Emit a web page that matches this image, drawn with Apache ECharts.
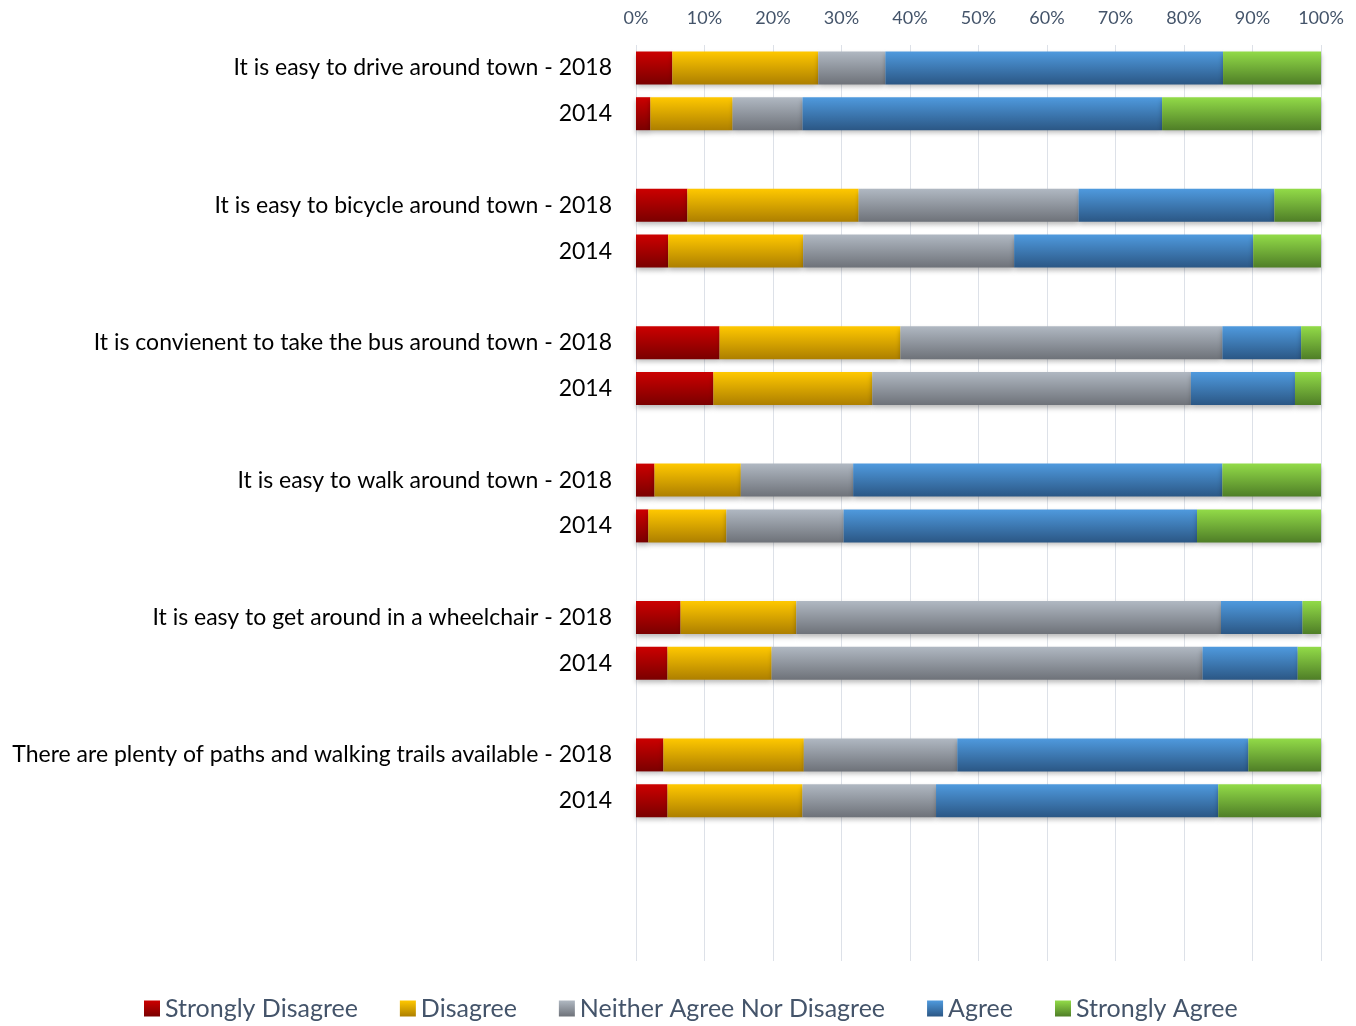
<!DOCTYPE html>
<html>
<head>
<meta charset="utf-8">
<script src="https://cdn.jsdelivr.net/npm/echarts@6/dist/echarts.min.js"></script>
<style>
html,body{margin:0;padding:0;background:#fff;}
#chart{width:1356px;height:1026px;}
</style>
</head>
<body>
<div id="chart"></div>
<script>
const categories = [
  'It is easy to drive around town - 2018', '2014', '',
  'It is easy to bicycle around town - 2018', '2014', '',
  'It is convienent to take the bus around town - 2018', '2014', '',
  'It is easy to walk around town - 2018', '2014', '',
  'It is easy to get around in a wheelchair - 2018', '2014', '',
  'There are plenty of paths and walking trails available - 2018', '2014', '',
  '', ''
];
const seriesNames = ['Strongly Disagree', 'Disagree', 'Neither Agree Nor Disagree', 'Agree', 'Strongly Agree'];
const stronglyDisagree = [5.3, 2.1, null, 7.5, 4.7, null, 12.2, 11.3, null, 2.7, 1.8, null, 6.5, 4.6, null, 4.0, 4.6, null, null, null];
const disagree         = [21.3, 12.0, null, 25.0, 19.7, null, 26.4, 23.2, null, 12.6, 11.4, null, 16.9, 15.2, null, 20.5, 19.7, null, null, null];
const neither          = [9.8, 10.2, null, 32.1, 30.8, null, 47.0, 46.5, null, 16.4, 17.1, null, 62.0, 62.9, null, 22.4, 19.5, null, null, null];
const agree            = [49.3, 52.5, null, 28.6, 34.9, null, 11.5, 15.2, null, 53.9, 51.6, null, 11.9, 13.9, null, 42.5, 41.2, null, null, null];
const stronglyAgree    = [14.3, 23.2, null, 6.8, 9.9, null, 2.9, 3.8, null, 14.4, 18.1, null, 2.7, 3.4, null, 10.6, 15.0, null, null, null];
const tickLabels = ['0%', '10%', '20%', '30%', '40%', '50%', '60%', '70%', '80%', '90%', '100%'];

const values = [stronglyDisagree, disagree, neither, agree, stronglyAgree];
const gradStops = [
  ['#cc0000', '#7a0000'],
  ['#ffc800', '#ad7f00'],
  ['#b0b8c2', '#6e7279'],
  ['#4f9ade', '#2b5785'],
  ['#92db48', '#4f7e27']
];
function grad(c) {
  return new echarts.graphic.LinearGradient(0, 0, 0, 1, [
    { offset: 0, color: c[0] }, { offset: 1, color: c[1] }
  ]);
}

const chart = echarts.init(document.getElementById('chart'), null, { renderer: 'canvas' });
const FONT = 'Lato';
chart.setOption({
  animation: false,
  backgroundColor: '#ffffff',
  grid: { left: 636, right: 35, top: 45, bottom: 65, containLabel: false },
  legend: {
    bottom: 0,
    left: 139,
    icon: 'rect',
    itemWidth: 16,
    itemHeight: 16,
    itemGap: 42,
    textStyle: { fontFamily: FONT, fontSize: 25, color: '#44546a' },
    data: seriesNames
  },
  xAxis: {
    type: 'value',
    position: 'top',
    min: 0,
    max: 100,
    interval: 10,
    axisLine: { show: false },
    axisTick: { show: false },
    axisLabel: {
      margin: 18,
      fontFamily: FONT,
      fontSize: 18,
      color: '#44546a',
      formatter: function (v) { return tickLabels[Math.round(v / 10)]; }
    },
    splitLine: { show: true, lineStyle: { color: '#dde1e8', width: 1 } }
  },
  yAxis: {
    type: 'category',
    inverse: true,
    data: categories,
    axisLine: { show: false },
    axisTick: { show: false },
    axisLabel: {
      interval: 0,
      margin: 24,
      fontFamily: FONT,
      fontSize: 23,
      color: '#000000'
    }
  },
  series: seriesNames.map(function (name, i) {
    return {
      name: name,
      type: 'bar',
      stack: 'total',
      barWidth: 33,
      data: values[i],
      itemStyle: {
        color: grad(gradStops[i]),
        shadowColor: 'rgba(0,0,0,0.28)',
        shadowBlur: 5,
        shadowOffsetY: 3
      }
    };
  })
});
</script>
</body>
</html>
